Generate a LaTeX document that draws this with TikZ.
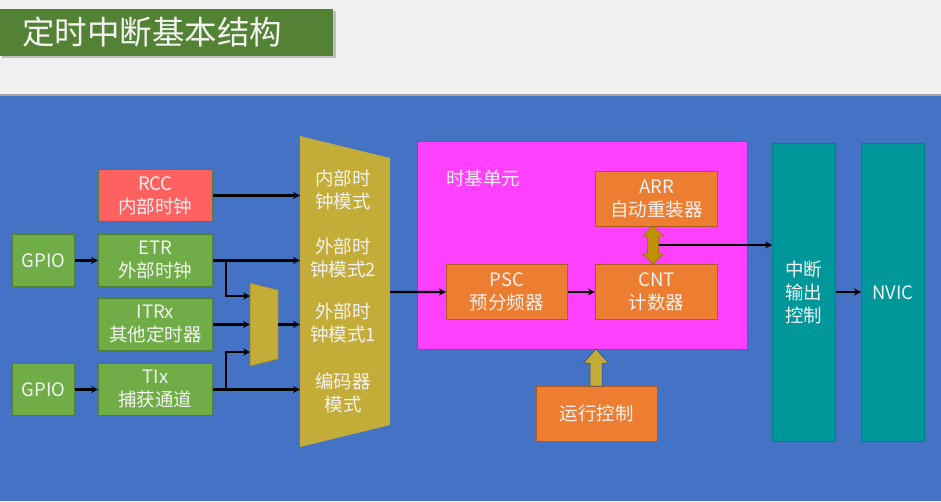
\documentclass[tikz,border=0pt]{standalone}
\usepackage{fontspec}
\setmainfont{Noto Sans CJK SC}
\usetikzlibrary{arrows.meta,calc}
\definecolor{bgray}{RGB}{240,240,240}
\definecolor{bblue}{RGB}{68,114,196}
\definecolor{tgreen}{RGB}{84,130,53}
\definecolor{bgreen}{RGB}{112,173,71}
\definecolor{bgreend}{RGB}{80,126,50}
\definecolor{bred}{RGB}{255,97,97}
\definecolor{bgold}{RGB}{195,172,55}
\definecolor{bgoldd}{RGB}{150,130,40}
\definecolor{bmag}{RGB}{255,64,255}
\definecolor{borange}{RGB}{237,125,49}
\definecolor{borand}{RGB}{174,90,33}
\definecolor{bteal}{RGB}{0,151,154}
\definecolor{ddgold}{RGB}{191,144,0}
\definecolor{txt}{RGB}{242,242,242}
\tikzset{
  boxbase/.style={anchor=north west, inner sep=0pt, align=center, text=txt,
    font=\fontsize{18.5}{23}\selectfont},
  gbox/.style={boxbase, fill=bgreen, draw=bgreend, line width=0.8pt},
  rbox/.style={boxbase, fill=bred, draw=bgreend, line width=0.8pt},
  obox/.style={boxbase, fill=borange, draw=borand, line width=0.8pt},
  tbox/.style={boxbase, fill=bteal, draw=bteal!85!black, line width=0.5pt},
  lbl/.style={inner sep=0pt, align=center, text=txt, font=\fontsize{18.5}{23}\selectfont},
  arr/.style={draw=black, line width=2.2pt, -{Stealth[length=7pt,width=7pt]}},
  ghost/.style={anchor=north west, inner sep=0pt, draw=none},
}
\begin{document}
\begin{tikzpicture}[x=1pt,y=-1pt]
\useasboundingbox (0,0) rectangle (941,501);
% backgrounds
\fill[bgray] (0,0) rectangle (941,501);
\fill[black!35] (0,94) rectangle (941,97);
\fill[bblue] (0,96) rectangle (941,501);
% title
\fill[black!25] (2,11) rectangle (336,58);
\fill[tgreen] (0,9) rectangle (333,56);
\node[anchor=west, inner sep=0pt, text=txt, font=\fontsize{32.5}{38}\selectfont] (title) at (22,32) {定时中断基本结构};

% left boxes
\node[rbox, minimum width=114, minimum height=52] (rcc) at (98,169) {RCC\\内部时钟};
\node[gbox, minimum width=62, minimum height=52] (gpio1) at (12,234) {GPIO};
\node[gbox, minimum width=114, minimum height=52] (etr) at (98,234) {ETR\\外部时钟};
\node[gbox, minimum width=114, minimum height=52] (itr) at (98,298) {ITRx\\其他定时器};
\node[gbox, minimum width=62, minimum height=52] (gpio2) at (12,363) {GPIO};
\node[gbox, minimum width=114, minimum height=52] (tix) at (98,363) {TIx\\捕获通道};

% mux
\fill[bgold] (250,283) -- (278,290) -- (278,359) -- (250,366) -- cycle;
\draw[bgoldd, line width=0.5pt] (250,283) -- (278,290) -- (278,359) -- (250,366) -- cycle;
\node[ghost, minimum width=28, minimum height=83] (mux) at (250,283) {};

% clock mode trapezoid
\fill[bgold] (300,136) -- (390,158) -- (390,425) -- (300,447) -- cycle;
\node[ghost, minimum width=90, minimum height=311] (clk) at (300,136) {};
\node[lbl] (m1) at (343,190) {内部时\\钟模式};
\node[lbl] (m2) at (343,258) {外部时\\钟模式2};
\node[lbl] (m3) at (343,323) {外部时\\钟模式1};
\node[lbl] (m4) at (343,393) {编码器\\模式};

% time base unit
\node[ghost, fill=bmag, draw=bmag!70!black, line width=0.6pt, minimum width=330, minimum height=208] (tbu) at (417,141) {};
\node[lbl] (tbulbl) at (483,178) {时基单元};
\node[obox, minimum width=122, minimum height=55] (arr) at (595,171) {ARR\\自动重装器};
\node[obox, minimum width=121, minimum height=55] (psc) at (446,264) {PSC\\预分频器};
\node[obox, minimum width=122, minimum height=55] (cnt) at (595,264) {CNT\\计数器};

% double arrow ARR <-> CNT
\filldraw[fill=ddgold, draw=ddgold!75!black, line width=0.5pt]
  (653,226) -- (663.5,236) -- (658.5,236) -- (658.5,254) -- (663.5,254) -- (653,264)
  -- (642.5,254) -- (647.5,254) -- (647.5,236) -- (642.5,236) -- cycle;
\coordinate (dbl) at (658.5,245);

% run control
\node[obox, minimum width=121, minimum height=55] (run) at (536,386) {运行控制};
\filldraw[fill=bgold, draw=bblue!60!black, line width=0.5pt]
  (596,349) -- (608.5,363) -- (602,363) -- (602,386) -- (590,386) -- (590,363) -- (583.5,363) -- cycle;

% output
\node[tbox, minimum width=63, minimum height=298] (ictl) at (772,143) {};
\node[lbl] (ictllbl) at (803.5,292) {中断\\输出\\控制};
\node[tbox, minimum width=63, minimum height=298] (nvic) at (861,143) {NVIC};

% connectors
\draw[arr] (rcc.east) -- (rcc.east -| clk.west);
\draw[arr] (gpio1.east) -- (etr.west);
\draw[arr] (etr.east) -- (etr.east -| clk.west);
\coordinate (b1) at (226,259);
\coordinate (b1e) at (250,296);
\draw[arr] (b1) |- (b1e);
\draw[arr] (itr.east) -- (itr.east -| mux.west);
\draw[arr] (gpio2.east) -- (tix.west);
\draw[arr] (tix.east) -- (tix.east -| clk.west);
\coordinate (b2) at (226,389);
\coordinate (b2e) at (250,352);
\draw[arr] (b2) |- (b2e);
\draw[arr] (mux.east |- itr.east) -- (itr.east -| clk.west);
\coordinate (clkout) at (390,292);
\draw[arr] (clkout) -- (psc.west);
\draw[arr] (psc.east) -- (cnt.west);
\draw[arr] (dbl) -- (dbl -| ictl.west);
\draw[arr] (ictl.east |- psc.west) -- (nvic.west |- psc.west);
\end{tikzpicture}
\end{document}
